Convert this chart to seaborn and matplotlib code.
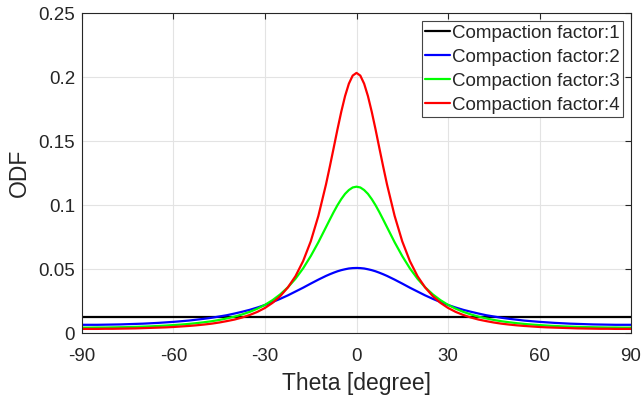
import numpy as np
import pandas as pd
import matplotlib
matplotlib.use("Agg")
import matplotlib.pyplot as plt
import seaborn as sns

# theta grid (degrees)
theta = [-90, -87.5, -85, -82.5, -80, -77.5, -75, -72.5, -70, -67.5, -65, -62.5, -60,
         -57.5, -55, -52.5, -50, -47.5, -45, -42.5, -40, -37.5, -35, -32.5, -30,
         -27.5, -25, -22.5, -20, -17.5, -15, -12.5, -10, -8.75, -7.5, -6.25, -5,
         -3.75, -2.5, -1.25, 0, 1.25, 2.5, 3.75, 5, 6.25, 7.5, 8.75, 10, 12.5, 15,
         17.5, 20, 22.5, 25, 27.5, 30, 32.5, 35, 37.5, 40, 42.5, 45, 47.5, 50,
         52.5, 55, 57.5, 60, 62.5, 65, 67.5, 70, 72.5, 75, 77.5, 80, 82.5, 85,
         87.5, 90]

odf_cf1 = [0.0127] * len(theta)

odf_cf2 = [0.0064, 0.0064, 0.0064, 0.0065, 0.0066, 0.0067, 0.0069, 0.0071, 0.0073, 0.0076,
           0.0079, 0.0083, 0.0087, 0.0092, 0.0097, 0.0104, 0.0111, 0.0119, 0.0129, 0.0139,
           0.0152, 0.0166, 0.0181, 0.0199, 0.0219, 0.0242, 0.0267, 0.0294, 0.0324, 0.0354,
           0.0386, 0.0417, 0.0446, 0.0459, 0.0471, 0.0482, 0.0491, 0.0498, 0.0504, 0.0507,
           0.0508,
           0.0507, 0.0504, 0.0498, 0.0491, 0.0482, 0.0471, 0.0459, 0.0446, 0.0417, 0.0386,
           0.0354, 0.0324, 0.0294, 0.0267, 0.0242, 0.0219, 0.0199, 0.0181, 0.0166, 0.0152,
           0.0139, 0.0129, 0.0119, 0.0111, 0.0104, 0.0097, 0.0092, 0.0087, 0.0083, 0.0079,
           0.0076, 0.0073, 0.0071, 0.0069, 0.0067, 0.0066, 0.0065, 0.0064, 0.0064, 0.0064]

odf_cf3 = [0.0042, 0.0042, 0.0043, 0.0043, 0.0044, 0.0045, 0.0046, 0.0048, 0.0050, 0.0052,
           0.0055, 0.0058, 0.0062, 0.0066, 0.0071, 0.0077, 0.0084, 0.0092, 0.0102, 0.0114,
           0.0128, 0.0145, 0.0165, 0.0190, 0.0220, 0.0257, 0.0302, 0.0357, 0.0424, 0.0505,
           0.0601, 0.0709, 0.0827, 0.0886, 0.0944, 0.0998, 0.1046, 0.1087, 0.1117, 0.1137,
           0.1143,
           0.1137, 0.1117, 0.1087, 0.1046, 0.0998, 0.0944, 0.0886, 0.0827, 0.0709, 0.0601,
           0.0505, 0.0424, 0.0357, 0.0302, 0.0257, 0.0220, 0.0190, 0.0165, 0.0145, 0.0128,
           0.0114, 0.0102, 0.0092, 0.0084, 0.0077, 0.0071, 0.0066, 0.0062, 0.0058, 0.0055,
           0.0052, 0.0050, 0.0048, 0.0046, 0.0045, 0.0044, 0.0043, 0.0043, 0.0042, 0.0042]

odf_cf4 = [0.0032, 0.0032, 0.0032, 0.0033, 0.0033, 0.0034, 0.0035, 0.0036, 0.0038, 0.0040,
           0.0042, 0.0044, 0.0047, 0.0051, 0.0055, 0.0060, 0.0066, 0.0073, 0.0082, 0.0093,
           0.0105, 0.0121, 0.0141, 0.0165, 0.0196, 0.0236, 0.0288, 0.0356, 0.0444, 0.0562,
           0.0716, 0.0915, 0.1161, 0.1300, 0.1444, 0.1590, 0.1728, 0.1851, 0.1948, 0.2011,
           0.2032,
           0.2011, 0.1948, 0.1851, 0.1728, 0.1590, 0.1444, 0.1300, 0.1161, 0.0915, 0.0716,
           0.0562, 0.0444, 0.0356, 0.0288, 0.0236, 0.0196, 0.0165, 0.0141, 0.0121, 0.0105,
           0.0093, 0.0082, 0.0073, 0.0066, 0.0060, 0.0055, 0.0051, 0.0047, 0.0044, 0.0042,
           0.0040, 0.0038, 0.0036, 0.0035, 0.0034, 0.0033, 0.0033, 0.0032, 0.0032, 0.0032]

labels = ["Compaction factor:1", "Compaction factor:2",
          "Compaction factor:3", "Compaction factor:4"]
colors = ["#000000", "#0000ff", "#00ff00", "#ff0000"]

x_ticks = [-90, -60, -30, 0, 30, 60, 90]
y_ticks = [0, 0.05, 0.1, 0.15, 0.2, 0.25]
y_tick_labels = ["0", "0.05", "0.1", "0.15", "0.2", "0.25"]

frames = []
for lab, vals in zip(labels, [odf_cf1, odf_cf2, odf_cf3, odf_cf4]):
    frames.append(pd.DataFrame({"Theta": theta, "ODF": vals, "series": lab}))
df = pd.concat(frames, ignore_index=True)

sns.set_style("white")
plt.rcParams["font.family"] = ["Liberation Sans", "DejaVu Sans"]

fig = plt.figure(figsize=(6.44, 3.98), dpi=100)
ax = fig.add_axes([82 / 644, 1 - 333 / 398, (631 - 82) / 644, (333 - 13) / 398])

sns.lineplot(data=df, x="Theta", y="ODF", hue="series", hue_order=labels,
             palette=dict(zip(labels, colors)), linewidth=1.6, ax=ax,
             estimator=None, sort=False)

ax.set_xlim(-90, 90)
ax.set_ylim(0, 0.25)
ax.set_xticks(x_ticks)
ax.set_xticklabels([str(t) for t in x_ticks])
ax.set_yticks(y_ticks)
ax.set_yticklabels(y_tick_labels)
ax.grid(True, color="#e3e3e3", linewidth=0.8)
ax.set_axisbelow(True)
for s in ax.spines.values():
    s.set_visible(True)
    s.set_color("#262626")
    s.set_linewidth(0.8)
ax.tick_params(direction="in", length=4, width=0.8, color="#262626",
               labelsize=13.5, labelcolor="#262626", top=True, right=True)
ax.tick_params(axis="x", pad=10.5)
ax.tick_params(axis="y", pad=5)
ax.set_xlabel("Theta [degree]", fontsize=16.5, color="#262626", labelpad=5)
ax.set_ylabel("ODF", fontsize=16.5, color="#262626", labelpad=5)

leg = ax.legend(loc="upper right", bbox_to_anchor=(1 - 8 / 549, 1 - 8 / 320),
                borderaxespad=0, fontsize=13.5, handlelength=1.3,
                handletextpad=0.1, labelspacing=0.36, borderpad=0.2,
                fancybox=False, framealpha=1, edgecolor="#444444")
leg.get_frame().set_linewidth(0.8)

fig.savefig("out.png", dpi=100, facecolor="white")
